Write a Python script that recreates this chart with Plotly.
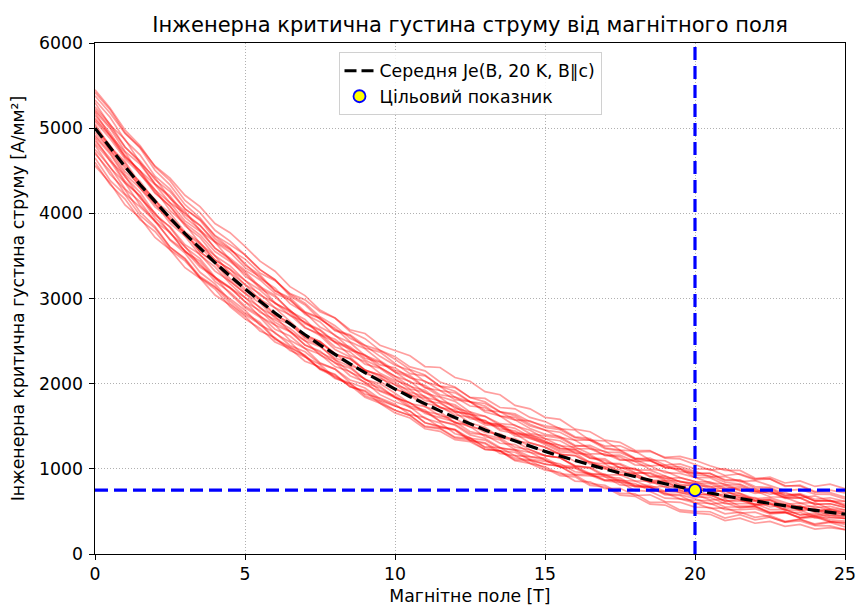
import plotly.graph_objects as go

# Magnetic field grid [T]
B_FIELD = [i * 0.5 for i in range(51)]

# Mean engineering critical current density Je(B) at 20 K, B||c [A/mm^2]
JE_MEAN = [
    5000, 4768, 4548, 4337, 4136, 3944, 3762, 3588, 3421, 3263,
    3112, 2968, 2830, 2699, 2574, 2455, 2341, 2233, 2129, 2031,
    1937, 1847, 1761, 1680, 1602, 1528, 1457, 1390, 1325, 1264,
    1205, 1150, 1096, 1046, 997, 951, 907, 865, 825, 787,
    750, 716, 682, 651, 621, 592, 564, 538, 513, 490,
    467,
]

# Individual tape samples: offsets from the mean curve, in units of 10 A/mm^2
SAMPLE_OFFSETS = [
    [45, 47, 43, 46, 41, 44, 39, 42, 38, 41, 40, 37, 39, 33, 35, 30, 31, 26, 28, 24,
     22, 25, 20, 17, 19, 14, 16, 12, 15, 11, 12, 9, 13, 8, 10, 6, 9, 4, 7, 3,
     5, 8, 3, 6, 1, 4, 0, 3, -1, 4, 2],
    [10, 14, 12, 17, 20, 18, 24, 27, 25, 31, 35, 33, 38, 36, 41, 39, 43, 40, 46, 42,
     45, 48, 44, 51, 47, 50, 45, 48, 42, 44, 40, 43, 37, 39, 34, 36, 31, 35, 30, 33,
     30, 27, 32, 28, 25, 29, 23, 27, 22, 26, 25],
    [-44, -41, -45, -39, -42, -37, -40, -35, -38, -34, -32, -35, -29, -31, -26, -28, -24, -27, -21, -23,
     -20, -17, -22, -18, -14, -19, -15, -18, -13, -16, -15, -12, -17, -13, -9, -14, -11, -8, -12, -9,
     -10, -13, -8, -11, -6, -10, -7, -11, -6, -9, -8],
    [30, 27, 32, 26, 28, 23, 26, 21, 24, 19, 20, 17, 21, 15, 18, 12, 15, 10, 13, 9,
     10, 13, 8, 12, 15, 11, 16, 14, 19, 15, 18, 21, 17, 23, 20, 24, 21, 26, 22, 27,
     25, 28, 24, 29, 26, 31, 27, 32, 28, 33, 30],
    [-20, -23, -19, -24, -22, -26, -23, -28, -25, -29, -28, -25, -30, -27, -24, -28, -23, -27, -22, -26,
     -25, -22, -27, -21, -24, -19, -23, -18, -22, -17, -20, -23, -19, -24, -21, -26, -23, -28, -25, -29,
     -27, -25, -29, -23, -26, -21, -24, -19, -22, -18, -18],
    [0, 3, -2, 4, 1, 6, 2, 7, 3, 8, 5, 9, 6, 11, 8, 13, 9, 14, 10, 15,
     12, 9, 14, 10, 7, 12, 8, 11, 6, 10, 8, 5, 9, 3, 6, 1, 4, -1, 3, -2,
     0, 3, -3, 1, -4, 0, -5, -2, -7, -3, -5],
    [20, 23, 18, 24, 21, 26, 22, 27, 24, 28, 25, 29, 26, 31, 27, 32, 28, 33, 29, 34,
     30, 27, 33, 29, 35, 31, 37, 33, 38, 34, 35, 32, 36, 29, 33, 27, 30, 24, 27, 22,
     20, 23, 18, 21, 15, 18, 12, 16, 11, 14, 10],
    [-10, -7, -12, -9, -14, -11, -16, -12, -17, -13, -15, -11, -14, -9, -12, -7, -10, -5, -8, -3,
     -5, -8, -3, -6, -1, -4, 1, -2, 3, 0, 0, 3, -1, 4, 2, 7, 4, 9, 6, 11,
     10, 7, 12, 9, 14, 11, 16, 12, 17, 13, 15],
    [38, 41, 39, 44, 42, 47, 45, 49, 46, 51, 50, 47, 49, 44, 46, 41, 43, 38, 40, 36,
     35, 32, 34, 29, 31, 26, 28, 23, 25, 21, 20, 23, 18, 21, 16, 19, 14, 17, 13, 16,
     15, 12, 14, 10, 12, 8, 10, 6, 9, 4, 5],
    [-30, -27, -32, -26, -23, -25, -20, -22, -17, -14, -10, -13, -8, -5, -7, -2, -4, 1, -1, 3,
     5, 2, 7, 4, 9, 6, 11, 8, 12, 9, 10, 13, 9, 12, 7, 10, 5, 8, 4, 7,
     5, 2, 6, 1, 4, -1, 2, -3, 1, -4, -2],
    [5, 2, 6, 1, 3, -2, 1, -4, -1, -6, -5, -8, -4, -9, -7, -12, -9, -14, -11, -16,
     -15, -12, -17, -14, -19, -16, -21, -18, -23, -20, -22, -19, -24, -20, -23, -18, -22, -17, -21, -18,
     -20, -17, -21, -16, -19, -14, -18, -13, -17, -12, -15],
    [15, 18, 13, 16, 11, 14, 9, 13, 8, 12, 10, 13, 11, 16, 14, 18, 15, 20, 17, 22,
     20, 17, 22, 19, 24, 21, 26, 23, 28, 24, 25, 28, 24, 29, 27, 32, 29, 34, 31, 36,
     35, 32, 30, 33, 27, 29, 24, 26, 21, 23, 20],
    [-5, -2, -6, 0, -3, 2, 0, 5, 3, 8, 10, 7, 12, 10, 15, 13, 18, 16, 21, 19,
     25, 22, 27, 24, 29, 26, 31, 28, 32, 29, 30, 33, 28, 31, 25, 27, 22, 24, 19, 21,
     15, 18, 13, 16, 11, 14, 9, 12, 7, 10, 8],
    [-35, -38, -33, -36, -31, -34, -29, -33, -28, -32, -30, -27, -31, -28, -25, -29, -26, -23, -27, -24,
     -25, -22, -26, -20, -23, -17, -20, -14, -17, -12, -10, -13, -8, -11, -6, -9, -5, -8, -3, -7,
     -5, -8, -4, -9, -6, -11, -7, -12, -8, -11, -10],
    [25, 28, 23, 26, 21, 24, 19, 22, 17, 19, 15, 18, 12, 14, 9, 11, 6, 8, 3, 5,
     0, 2, -3, -1, -6, -3, -8, -5, -10, -7, -10, -13, -9, -12, -14, -11, -16, -13, -17, -14,
     -15, -18, -14, -17, -13, -16, -19, -15, -18, -16, -18],
    [-15, -12, -17, -14, -19, -16, -21, -18, -22, -19, -20, -17, -19, -14, -16, -11, -14, -9, -12, -8,
     -10, -7, -9, -4, -6, -1, -3, 2, 0, 4, 5, 2, 6, 3, 0, 4, 1, -2, 2, -1,
     0, 3, -1, 4, 1, 5, 2, 6, 3, 7, 5],
    [8, 11, 9, 13, 10, 14, 12, 16, 13, 17, 18, 15, 19, 16, 13, 17, 14, 18, 15, 16,
     15, 12, 16, 11, 13, 8, 11, 6, 9, 4, 5, 2, 6, 1, 3, -2, 1, -3, 0, -4,
     -5, -2, -6, -3, 0, -4, 1, -2, 2, -1, 0],
    [-25, -22, -26, -20, -23, -17, -21, -15, -19, -14, -15, -18, -14, -19, -16, -21, -17, -22, -18, -21,
     -20, -17, -22, -19, -15, -20, -16, -21, -17, -20, -18, -21, -17, -22, -19, -24, -20, -26, -22, -27,
     -25, -22, -26, -19, -22, -16, -19, -13, -16, -11, -12],
    [33, 36, 31, 35, 30, 34, 29, 33, 28, 32, 30, 27, 29, 24, 26, 21, 23, 18, 20, 16,
     15, 18, 13, 16, 11, 14, 9, 13, 8, 12, 10, 7, 11, 8, 12, 6, 10, 5, 9, 6,
     8, 11, 7, 12, 9, 14, 10, 15, 11, 14, 12],
    [0, -3, 1, -4, -2, -6, -3, -8, -5, -9, -10, -7, -11, -8, -12, -9, -6, -10, -7, -11,
     -8, -11, -7, -12, -9, -13, -10, -14, -11, -15, -12, -9, -13, -10, -7, -11, -8, -12, -9, -6,
     -8, -5, -9, -6, -3, -7, -4, -8, -5, -1, -3],
    [-8, -5, -9, -4, -6, -1, -3, 2, 0, 4, 5, 2, 6, 3, 0, 4, 1, -2, 2, -1,
     0, 3, 1, 5, 3, 8, 6, 11, 9, 13, 15, 12, 16, 13, 18, 15, 20, 17, 22, 18,
     20, 23, 19, 22, 17, 19, 14, 16, 11, 13, 10],
    [18, 15, 17, 12, 14, 9, 11, 6, 8, 3, 0, 3, -2, 1, -4, -1, -6, -3, -8, -6,
     -10, -7, -11, -8, -5, -9, -6, -3, -7, -4, -5, -2, -6, -3, 1, -2, 3, 0, 4, 2,
     5, 2, 6, 3, 0, 4, -1, 2, -2, 1, 0],
    [-40, -43, -38, -41, -35, -37, -32, -34, -29, -27, -25, -28, -23, -25, -20, -22, -17, -19, -14, -12,
     -10, -13, -9, -12, -8, -11, -6, -9, -4, -7, -5, -2, -6, -3, -7, -2, -5, -1, -4, 1,
     0, -3, 2, -2, -5, -1, -4, -8, -3, -6, -5],
    [12, 15, 11, 16, 14, 18, 15, 20, 17, 21, 22, 25, 23, 28, 26, 31, 29, 34, 32, 36,
     38, 35, 39, 34, 36, 31, 33, 28, 30, 26, 25, 22, 24, 19, 21, 16, 18, 13, 15, 11,
     10, 13, 9, 14, 11, 16, 12, 17, 13, 17, 15],
    [-18, -15, -19, -13, -16, -10, -13, -7, -10, -6, -5, -2, -6, 0, -3, 3, 0, 6, 3, 7,
     8, 5, 9, 4, 6, 1, 3, -2, 0, -4, -5, -2, -7, -4, -9, -6, -11, -8, -13, -10,
     -15, -12, -16, -13, -9, -12, -8, -11, -7, -11, -10],
    [42, 45, 40, 43, 37, 39, 34, 36, 31, 33, 28, 31, 26, 29, 24, 27, 22, 25, 20, 23,
     20, 23, 19, 24, 21, 26, 23, 28, 25, 30, 28, 31, 27, 29, 24, 26, 21, 23, 19, 21,
     18, 20, 16, 17, 13, 15, 10, 12, 7, 10, 8],
    [-28, -31, -27, -32, -29, -34, -30, -35, -31, -36, -35, -32, -34, -29, -31, -26, -28, -23, -25, -20,
     -18, -21, -16, -19, -14, -17, -12, -15, -10, -12, -8, -11, -7, -10, -13, -9, -12, -8, -11, -14,
     -12, -9, -13, -10, -7, -11, -8, -5, -9, -6, -5],
    [3, 0, 4, -1, 2, -3, 1, -4, 0, -3, -2, 1, -3, 2, -1, 4, 1, 6, 3, 7,
     5, 8, 4, 9, 7, 11, 8, 13, 10, 14, 12, 9, 13, 10, 7, 11, 8, 12, 9, 6,
     8, 5, 9, 6, 3, 7, 4, 1, 5, 2, 3],
    [22, 25, 23, 28, 26, 31, 29, 34, 32, 37, 40, 37, 39, 35, 37, 33, 34, 30, 32, 29,
     28, 31, 26, 29, 24, 26, 21, 23, 18, 19, 15, 18, 14, 19, 16, 21, 18, 23, 20, 24,
     22, 19, 23, 20, 24, 21, 18, 22, 19, 21, 18],
    [-12, -15, -11, -16, -13, -18, -15, -20, -17, -21, -22, -19, -24, -21, -26, -23, -27, -25, -29, -26,
     -28, -25, -29, -24, -26, -21, -23, -18, -20, -16, -15, -12, -16, -11, -13, -8, -10, -6, -9, -4,
     -5, -2, -6, -1, -4, 1, -3, 2, -1, 3, 0],
]
OFFSET_UNIT = 10  # A/mm^2 per offset step

# Design target point
TARGET_B = 20
TARGET_JE = 750

X_TICKS = [0, 5, 10, 15, 20, 25]
Y_TICKS = [0, 1000, 2000, 3000, 4000, 5000, 6000]
X_RANGE = [0, 25]
Y_RANGE = [0, 6000]

for row in SAMPLE_OFFSETS:
    if len(row) != len(B_FIELD):
        raise ValueError(f"offset row has {len(row)} points, expected {len(B_FIELD)}")

FONT = "DejaVu Sans"
LABEL_SIZE = 17.3

fig = go.Figure()

# Sample curves
for row in SAMPLE_OFFSETS:
    je = [m + OFFSET_UNIT * d for m, d in zip(JE_MEAN, row)]
    fig.add_trace(go.Scatter(
        x=B_FIELD, y=je, mode="lines",
        line=dict(color="rgba(255,0,0,0.38)", width=1.7),
        showlegend=False, hoverinfo="skip",
    ))

# Mean curve
fig.add_trace(go.Scatter(
    x=B_FIELD, y=JE_MEAN, mode="lines",
    name="Середня Je(B, 20 K, B∥c)",
    line=dict(color="black", width=3.2, dash="12px,5px"),
))

# Target guide lines
fig.add_trace(go.Scatter(
    x=[TARGET_B, TARGET_B], y=Y_RANGE, mode="lines",
    line=dict(color="#0000ff", width=3.2, dash="13px,6px"),
    showlegend=False, hoverinfo="skip",
))
fig.add_trace(go.Scatter(
    x=X_RANGE, y=[TARGET_JE, TARGET_JE], mode="lines",
    line=dict(color="#0000ff", width=3.2, dash="13px,6px"),
    showlegend=False, hoverinfo="skip",
))

# Target marker
fig.add_trace(go.Scatter(
    x=[TARGET_B], y=[TARGET_JE], mode="markers",
    name="Цільовий показник",
    marker=dict(color="yellow", size=12, line=dict(color="#0000ff", width=1.8)),
))

axis_common = dict(
    showline=True, linecolor="black", linewidth=1.2, mirror=True,
    ticks="outside", ticklen=4.5, tickwidth=1.2, tickcolor="black",
    showgrid=True, gridcolor="rgba(150,150,150,0.75)", gridwidth=1, griddash="1px,2px",
    zeroline=False,
    tickfont=dict(family=FONT, size=LABEL_SIZE, color="black"),
)

fig.update_layout(
    width=856, height=609,
    margin=dict(l=95, r=11, t=43, b=55, autoexpand=False),
    paper_bgcolor="white", plot_bgcolor="white",
    font=dict(family=FONT, size=LABEL_SIZE, color="black"),
    title=dict(
        text="Інженерна критична густина струму від магнітного поля",
        x=0.5, xref="paper", xanchor="center",
        y=1 - 25 / 609, yref="container", yanchor="middle",
        font=dict(family=FONT, size=21, color="black"),
    ),
    xaxis=dict(
        range=X_RANGE, tickvals=X_TICKS,
        title=dict(text="Магнітне поле [T]", standoff=6,
                   font=dict(family=FONT, size=LABEL_SIZE, color="black")),
        **axis_common,
    ),
    yaxis=dict(
        range=Y_RANGE, tickvals=Y_TICKS, ticklabelstandoff=3,
        title=dict(text="Інженерна критична густина струму [А/мм²]", standoff=9,
                   font=dict(family=FONT, size=LABEL_SIZE, color="black")),
        **axis_common,
    ),
    legend=dict(
        x=0.5, xanchor="center", xref="paper",
        y=1 - 9 / 511, yanchor="top", yref="paper",
        bgcolor="rgba(255,255,255,0.85)", bordercolor="#d0d0d0", borderwidth=1,
        font=dict(family=FONT, size=LABEL_SIZE, color="black"),
        itemwidth=30,
    ),
    showlegend=True,
)

fig.write_html("out.html")
